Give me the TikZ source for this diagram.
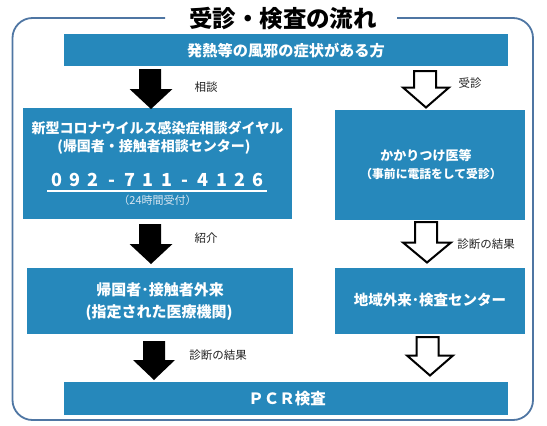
\documentclass[tikz,border=0pt]{standalone}
\usepackage{fontspec}
\setmainfont{Noto Sans CJK JP}
\usetikzlibrary{calc}
\definecolor{boxblue}{HTML}{2688BB}
\definecolor{framecol}{HTML}{4F76A3}
\definecolor{lblcol}{HTML}{222222}
\definecolor{softwhite}{HTML}{D8E6F1}
\newcommand\fs[1]{\fontsize{#1}{#1}\selectfont}
\newcommand\pd[1]{\makebox[18.3pt]{#1}}
% block arrow: style, top centre, tip, head half width
\newcommand\blockarrow[4]{%
  \path[#1] let \p1=(#2), \p2=(#3) in
    (\x1-11pt,\y1) -- (\x1+11pt,\y1) -- (\x1+11pt,\y2+20pt) -- (\x2+#4,\y2+20pt)
    -- (\x2,\y2) -- (\x2-#4,\y2+20pt) -- (\x1-11pt,\y2+20pt) -- cycle;}
\begin{document}
\begin{tikzpicture}[x=1pt,y=-1pt,
  bluebox/.style={fill=boxblue,inner sep=0pt,text=white},
  boxtext/.style={text=white,inner sep=0pt,font=\bfseries},
  lbl/.style={text=lblcol,inner sep=0pt},
  solidarrow/.style={fill=black},
  hollowarrow/.style={fill=white,draw=black,line width=2pt,line join=miter}]
\useasboundingbox (0,0) rectangle (547,426);
% frame
\draw[framecol,line width=1.8pt,rounded corners=20pt]
  (165,18) -- (12.5,18) -- (12.5,420) -- (533,420) -- (533,18) -- (397,18);
\node[inner sep=0pt,font=\bfseries\fs{23.5}] (title) at (283,19) {受診・検査の流れ};
% boxes
\node[bluebox,minimum width=444pt,minimum height=32pt] (top) at (286,50) {};
\node[boxtext,font=\bfseries\fs{15.2}] (toptxt) at (286,51) {発熱等の風邪の症状がある方};
\node[bluebox,minimum width=269pt,minimum height=111pt] (consult) at (157.5,163.5) {};
\node[bluebox,minimum width=190pt,minimum height=110pt] (clinic) at (430,165) {};
\node[bluebox,minimum width=266pt,minimum height=66pt] (outpat) at (160,301) {};
\node[bluebox,minimum width=190pt,minimum height=66pt] (local) at (430,301) {};
\node[bluebox,minimum width=444pt,minimum height=33pt] (pcr) at (286,398.5) {};
% texts
\node[boxtext,font=\bfseries\fs{14}] (c1) at (157.5,128) {新型コロナウイルス感染症相談ダイヤル};
\node[boxtext,font=\bfseries\fs{14}] (c2) at (154,147) {(帰国者・接触者相談センター)};
\node[boxtext,font=\bfseries\fs{18}] (phone) at (157.5,180) {\pd{0}\pd{9}\pd{2}\pd{-}\pd{7}\pd{1}\pd{1}\pd{-}\pd{4}\pd{1}\pd{2}\pd{6}};
\coordinate (ulA) at (47,191);
\coordinate (ulB) at (267,191);
\draw[white,line width=1.3pt] (ulA) -- (ulB);
\node[inner sep=0pt,text=softwhite,font=\fs{11}] (c3) at (157.5,200.5) {（24時間受付）};
\node[boxtext,font=\bfseries\fs{13}] (k1) at (426,156) {かかりつけ医等};
\node[boxtext,font=\bfseries\fs{11.8}] (k2) at (431,174) {（事前に電話をして受診）};
\node[boxtext,font=\bfseries\fs{15}] (o1) at (160,290) {帰国者･接触者外来};
\node[boxtext,font=\bfseries\fs{15}] (o2) at (159,313) {(指定された医療機関)};
\node[boxtext,font=\bfseries\fs{14.5}] (l1) at (430,300) {地域外来･検査センター};
\node[boxtext,font=\bfseries\fs{15.5}] (p1) at (287,399) {ＰＣＲ検査};
% arrows
\coordinate (a1s) at (150,69);  \coordinate (a1e) at (151,109);
\coordinate (a2s) at (150,224); \coordinate (a2e) at (151,264);
\coordinate (a3s) at (154,341); \coordinate (a3e) at (154,380);
\coordinate (b1s) at (425,71);  \coordinate (b1e) at (426,107.5);
\coordinate (b2s) at (426,222); \coordinate (b2e) at (427,262.5);
\coordinate (b3s) at (427.5,337); \coordinate (b3e) at (430,375.5);
\blockarrow{solidarrow}{a1s}{a1e}{21.5pt}
\blockarrow{solidarrow}{a2s}{a2e}{21.5pt}
\blockarrow{solidarrow}{a3s}{a3e}{21pt}
\blockarrow{hollowarrow}{b1s}{b1e}{23pt}
\blockarrow{hollowarrow}{b2s}{b2e}{24pt}
\blockarrow{hollowarrow}{b3s}{b3e}{23pt}
% labels
\node[lbl,font=\fs{11.5}] (t1) at (206,87) {相談};
\node[lbl,font=\fs{11.5}] (t2) at (470,83) {受診};
\node[lbl,font=\fs{11.5}] (t3) at (206,238) {紹介};
\node[lbl,font=\fs{11.5}] (t4) at (486,244) {診断の結果};
\node[lbl,font=\fs{11.5}] (t5) at (218,355) {診断の結果};
\end{tikzpicture}
\end{document}
